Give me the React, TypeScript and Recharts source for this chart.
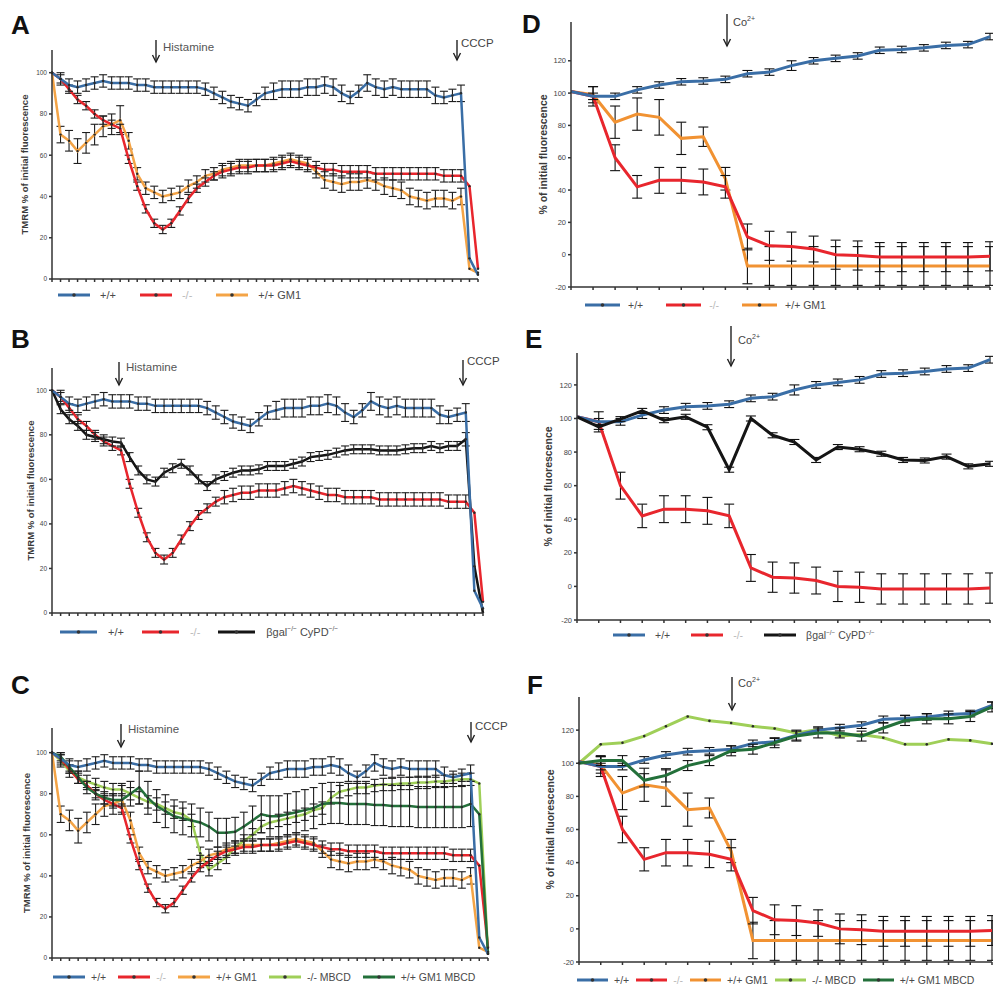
import React from 'react';
import { LineChart, Line, XAxis, YAxis, ErrorBar } from 'recharts';

const FONT = '"Liberation Sans", Arial, sans-serif';

// panels A-C: TMRM, % of initial fluorescence, one value per frame
const wtHist = [100, 97, 94, 93, 94, 95, 96, 95, 95, 95, 94, 94, 93, 93, 93, 93, 93, 93, 92, 90, 88, 86, 85, 84, 87, 90, 91, 92, 92, 92, 93, 93, 94, 93, 90, 88, 91, 95, 93, 92, 93, 92, 92, 92, 92, 89, 88, 89, 90, 10, 2];
const wtHistErr = [0, 3, 3, 3, 3, 3, 3, 3, 3, 3, 3, 3, 3, 3, 3, 3, 3, 3, 3, 3, 3, 3, 3, 3, 3, 3, 4, 4, 4, 4, 4, 4, 4, 4, 4, 3, 3, 4, 4, 4, 4, 4, 4, 4, 4, 4, 3, 3, 4, 0, 0];
const koHist = [100, 97, 92, 87, 84, 80, 77, 75, 73, 58, 45, 34, 27, 24, 27, 33, 39, 44, 47, 50, 52, 53, 54, 54, 55, 55, 55, 56, 57, 56, 55, 54, 53, 53, 52, 52, 52, 52, 51, 51, 51, 51, 51, 51, 51, 51, 50, 50, 50, 45, 5];
const koHistErr = [0, 2, 2, 2, 2, 2, 2, 2, 2, 2, 2, 2, 2, 2, 2, 2, 2, 2, 2, 2, 3, 3, 3, 3, 3, 3, 3, 3, 3, 3, 3, 3, 3, 3, 3, 3, 3, 3, 3, 3, 3, 3, 3, 3, 3, 3, 3, 3, 3, 0, 0];
const gm1Hist = [100, 70, 67, 62, 66, 70, 74, 75, 77, 67, 51, 44, 42, 40, 41, 42, 45, 47, 50, 51, 53, 54, 55, 55, 55, 55, 56, 57, 58, 57, 56, 52, 48, 47, 46, 47, 47, 48, 47, 45, 44, 43, 40, 39, 38, 39, 39, 38, 40, 5, 3];
const gm1HistErr = [0, 4, 5, 6, 5, 5, 5, 5, 7, 4, 3, 3, 3, 3, 3, 3, 3, 3, 3, 3, 3, 3, 3, 3, 3, 3, 3, 3, 3, 3, 3, 3, 4, 4, 4, 4, 4, 4, 4, 4, 4, 4, 4, 4, 4, 4, 4, 4, 4, 0, 0];
const cypdHist = [100, 91.5, 87, 84, 80, 79, 78, 77, 76.5, 70, 64, 60, 59, 63, 65, 67, 64, 60, 57, 60, 61.5, 63, 64, 64, 64.5, 66, 66, 66, 67, 68, 70, 70.5, 71, 72, 73, 73.5, 73.5, 73.5, 73, 73, 73, 73.5, 74, 74, 75, 74, 75, 75, 78, 21, 0];
const cypdHistErr = [0, 2, 2, 2, 2, 2, 2, 2, 2, 2, 2, 2, 2, 2, 2, 2, 2, 2, 2, 2, 2, 2, 2, 2, 2, 2, 2, 2, 2, 2, 2, 2, 2, 2, 2, 2, 2, 2, 2, 2, 2, 2, 2, 2, 2, 2, 2, 2, 3, 0, 0];
const mbcdHist = [100, 96, 91, 88, 86, 84.5, 83, 82, 82, 80, 78, 76, 75, 73, 71, 70, 67, 51, 43, 46, 49, 54, 57, 60, 64, 66, 67, 68, 69, 70, 72, 73, 78, 81, 82, 83, 83, 84, 84.5, 84.5, 85, 85, 85.5, 85.5, 86, 86, 86.5, 87, 87, 85, 2];
const mbcdHistErr = [0, 3, 3, 3, 3, 3, 3, 3, 3, 3, 3, 3, 3, 3, 3, 3, 3, 3, 3, 3, 3, 3, 3, 3, 3, 3, 3, 3, 3, 3, 3, 3, 3, 3, 3, 3, 3, 3, 3, 3, 3, 3, 3, 3, 3, 3, 3, 3, 3, 0, 0];
const gm1MbcdHist = [100, 98, 93, 88, 83, 80, 78, 77, 77, 80, 83, 78, 74, 71.5, 69, 68, 67, 66, 64, 61, 61, 61.5, 64, 67, 70, 69, 69, 70, 71, 72, 73, 75, 75.5, 75.5, 75, 75, 75, 74.5, 74.5, 74, 74, 74, 73.5, 73.5, 73.5, 73.5, 73.5, 73.5, 75, 70, 2];
const gm1MbcdHistErr = [0, 2, 3, 3, 3, 3, 3, 3, 3, 6, 8, 8, 8, 8, 8, 8, 8, 7, 7, 7, 7, 7, 7, 7, 9, 10, 10, 10, 10, 10, 10, 10, 10, 10, 10, 10, 10, 10, 10, 10, 10, 10, 10, 10, 10, 10, 10, 10, 11, 0, 0];

// panels D-F: Co2+ quench, % of initial fluorescence
const wtCo = [101, 98, 98, 102, 105, 107, 107.5, 108.5, 112, 113, 117, 120, 121.5, 123, 126.5, 127, 128, 129.5, 130, 135];
const wtCoErr = [0, 2, 2, 2, 2, 2, 2, 2, 2, 2, 3, 2, 2, 2, 2, 2, 2, 2, 2, 2];
const koCo = [101, 98, 60, 42, 46, 46, 45, 42, 11, 5.5, 5, 3.5, 0, -0.5, -1.5, -1.5, -1.5, -1.5, -1.5, -1];
const koCoErr = [0, 6, 8, 7, 8, 8, 8, 7, 8, 9, 9, 8, 9, 9, 9, 9, 9, 9, 9, 9];
const gm1Co = [101, 99, 82, 87, 85, 72, 73, 47, -7, -7, -7, -7, -7, -7, -7, -7, -7, -7, -7, -7];
const gm1CoErr = [0, 5, 10, 10, 11, 10, 6, 7, 11, 12, 12, 12, 12, 12, 12, 12, 12, 12, 12, 12];
const cypdCo = [101, 95, 99.6, 104.5, 99, 101, 94.8, 69.5, 100, 90, 86, 75.3, 83, 81.7, 79, 75.3, 75, 77.3, 71.5, 73];
const cypdCoErr = [0, 1.5, 1.5, 1.5, 1.5, 1.5, 1.5, 1.5, 1.5, 1.5, 1.5, 1.5, 1.5, 1.5, 1.5, 1.5, 1.5, 1.5, 1.5, 1.5];
const mbcdCo = [100, 111.4, 112.4, 116.4, 122.3, 128.2, 125.6, 124.3, 122.3, 121, 118.3, 120.3, 116.4, 117.4, 115.4, 111.4, 111.4, 114.4, 113.8, 111.8];
const gm1MbcdCo = [100, 101.6, 101.6, 89.7, 92.7, 98.6, 101.6, 107.5, 108.5, 112.4, 116.4, 118.3, 118.3, 116.4, 121.3, 125.8, 126.8, 126.8, 128.2, 134];
const gm1MbcdCoErr = [0, 3, 3, 4, 4, 3, 3, 3, 3, 3, 3, 3, 3, 3, 3, 3, 3, 3, 3, 3];

const histTicks = [0, 20, 40, 60, 80, 100];
const coTicks = [-20, 0, 20, 40, 60, 80, 100, 120];

const BLUE = '#3a6ea6';
const RED = '#e8262d';
const ORANGE = '#f4a446';
const ORANGE_D = '#f19232';
const BLACK = '#151515';
const LGREEN = '#9fcf58';
const DGREEN = '#23703a';

type S = { key: string; color: string; values: number[]; errors?: number[]; width?: number; dot?: number };

type PanelProps = {
  labelX: number; axisX: number; plotTop: number; plotBottom: number; plotRight: number;
  domain: [number, number]; yTicks: number[]; series: S[];
  yLabel: string; yLabelSize: number; tickSize: number; errW: number; errColor: string;
};

function Panel(p: PanelProps) {
  const boxLeft = 2 * p.labelX - p.axisX;
  const boxTop = p.plotTop - 10;
  const rightPad = Math.min(6, 993 - p.plotRight);
  const xAxisH = 6;
  const n = p.series[0].values.length;
  const data = p.series[0].values.map((_, i) => {
    const r: Record<string, number> = { t: i };
    p.series.forEach((s) => {
      r[s.key] = s.values[i];
      if (s.errors) r[s.key + 'Err'] = s.errors[i];
    });
    return r;
  });
  const ticks = data.map((d) => d.t);
  return (
    <div style={{ position: 'absolute', left: boxLeft, top: boxTop }}>
      <LineChart
        width={p.plotRight + rightPad - boxLeft}
        height={p.plotBottom - p.plotTop + 20}
        data={data}
        margin={{ top: 10, right: rightPad, bottom: 10 - xAxisH, left: 0 }}
      >
        <XAxis
          type="number"
          dataKey="t"
          domain={[0, n - 1]}
          ticks={ticks}
          interval={0}
          tickFormatter={() => ''}
          height={xAxisH}
          tickSize={3}
          stroke="#333"
          strokeWidth={1.5}
        />
        <YAxis
          width={p.axisX - boxLeft}
          domain={p.domain}
          ticks={p.yTicks}
          allowDataOverflow
          interval={0}
          tickSize={3}
          stroke="#333"
          strokeWidth={1.5}
          tick={{ fontSize: p.tickSize, fill: '#444', fontFamily: FONT }}
          label={{
            value: p.yLabel,
            angle: -90,
            position: 'center',
            style: { fontSize: p.yLabelSize, fontWeight: 700, fill: '#3a3a3a', fontFamily: FONT, textAnchor: 'middle' },
          }}
        />
        {p.series.map((s) => (
          <Line
            key={s.key}
            type="linear"
            dataKey={s.key}
            stroke={s.color}
            strokeWidth={s.width ?? 2.5}
            dot={s.dot ? { r: s.dot, fill: '#2a2a2a', stroke: 'none' } : false}
            activeDot={false}
            isAnimationActive={false}
          >
            {s.errors && (
              <ErrorBar
                dataKey={s.key + 'Err'}
                width={p.errW}
                strokeWidth={1.1}
                stroke={p.errColor}
                direction="y"
                isAnimationActive={false}
              />
            )}
          </Line>
        ))}
      </LineChart>
    </div>
  );
}

type LegendItem = { color: string; label: React.ReactNode; faint?: boolean };

function Legend({ x, y, items, swatch, gap, textGap, font }: { x: number; y: number; items: LegendItem[]; swatch: number; gap: number; textGap: number; font: number }) {
  return (
    <div style={{ position: 'absolute', left: x, top: y - 8, height: 16, display: 'flex', alignItems: 'center', fontFamily: FONT, fontSize: font, whiteSpace: 'nowrap' }}>
      {items.map((it, i) => (
        <div key={i} style={{ display: 'flex', alignItems: 'center', marginRight: gap }}>
          <svg width={swatch} height={8} style={{ display: 'block' }}>
            <line x1={0} y1={4} x2={swatch} y2={4} stroke={it.color} strokeWidth={3} />
            <circle cx={swatch / 2} cy={4} r={1.8} fill="#333" />
          </svg>
          <span style={{ marginLeft: textGap, color: it.faint ? '#b9b9b9' : '#4a4a4a' }}>{it.label}</span>
        </div>
      ))}
    </div>
  );
}

const cypdLabel = (
  <span>
    βgal<sup style={{ fontSize: '0.6em' }}>−/−</sup> CyPD<sup style={{ fontSize: '0.6em' }}>−/−</sup>
  </span>
);

function Arrow({ x, y1, y2 }: { x: number; y1: number; y2: number }) {
  return (
    <g stroke="#222" strokeWidth={1.4} fill="none">
      <line x1={x} y1={y1} x2={x} y2={y2} />
      <polyline points={`${x - 3.5},${y2 - 7} ${x},${y2} ${x + 3.5},${y2 - 7}`} />
    </g>
  );
}

function Co({ x, y }: { x: number; y: number }) {
  return (
    <text x={x} y={y} fontSize={11} fill="#444" fontFamily={FONT}>
      Co<tspan fontSize={7} dy={-5}>2+</tspan>
    </text>
  );
}

export default function App() {
  const histSeriesA: S[] = [
    { key: 'gm1', color: ORANGE, values: gm1Hist, errors: gm1HistErr, dot: 1.2 },
    { key: 'ko', color: RED, values: koHist, errors: koHistErr, dot: 1.2 },
    { key: 'wt', color: BLUE, values: wtHist, errors: wtHistErr, dot: 1.2 },
  ];
  const histSeriesB: S[] = [
    { key: 'ko', color: RED, values: koHist, errors: koHistErr, dot: 1.2 },
    { key: 'cypd', color: BLACK, values: cypdHist, errors: cypdHistErr, dot: 1.2 },
    { key: 'wt', color: BLUE, values: wtHist, errors: wtHistErr, dot: 1.2 },
  ];
  const histSeriesC: S[] = [
    { key: 'mbcd', color: LGREEN, values: mbcdHist, errors: mbcdHistErr, dot: 1.2 },
    { key: 'gm1', color: ORANGE, values: gm1Hist, errors: gm1HistErr, dot: 1.2 },
    { key: 'ko', color: RED, values: koHist, errors: koHistErr, dot: 1.2 },
    { key: 'gm1mbcd', color: DGREEN, values: gm1MbcdHist, errors: gm1MbcdHistErr, dot: 1.2 },
    { key: 'wt', color: BLUE, values: wtHist, errors: wtHistErr, dot: 1.2 },
  ];
  const coSeriesD: S[] = [
    { key: 'gm1', color: ORANGE_D, values: gm1Co, errors: gm1CoErr, width: 3 },
    { key: 'ko', color: RED, values: koCo, errors: koCoErr, width: 3 },
    { key: 'wt', color: BLUE, values: wtCo, errors: wtCoErr, width: 3 },
  ];
  const coSeriesE: S[] = [
    { key: 'ko', color: RED, values: koCo, errors: koCoErr, width: 3 },
    { key: 'wt', color: BLUE, values: wtCo, errors: wtCoErr, width: 3 },
    { key: 'cypd', color: BLACK, values: cypdCo, errors: cypdCoErr, width: 3 },
  ];
  const coSeriesF: S[] = [
    { key: 'mbcd', color: LGREEN, values: mbcdCo, width: 3, dot: 1.3 },
    { key: 'gm1', color: ORANGE_D, values: gm1Co, errors: gm1CoErr, width: 3 },
    { key: 'ko', color: RED, values: koCo, errors: koCoErr, width: 3 },
    { key: 'wt', color: BLUE, values: wtCo, errors: wtCoErr, width: 3 },
    { key: 'gm1mbcd', color: DGREEN, values: gm1MbcdCo, errors: gm1MbcdCoErr, width: 3 },
  ];

  const tmrm = 'TMRM % of initial fluorescence';
  const pct = '% of initial fluorescence';
  const letter = { fontSize: 26, fontWeight: 700, fill: '#111', fontFamily: FONT } as const;

  return (
    <div style={{ position: 'absolute', left: 0, top: 0, width: 993, height: 987, background: '#fff', overflow: 'hidden' }}>
      <Panel labelX={25} axisX={52} plotTop={50} plotBottom={279} plotRight={478} domain={[0, 111]} yTicks={histTicks}
        series={histSeriesA} yLabel={tmrm} yLabelSize={9.5} tickSize={6.5} errW={4} errColor="#1d1d1d" />
      <Panel labelX={31} axisX={52} plotTop={368} plotBottom={613} plotRight={483} domain={[0, 110]} yTicks={histTicks}
        series={histSeriesB} yLabel={tmrm} yLabelSize={9.5} tickSize={6.5} errW={4} errColor="#1d1d1d" />
      <Panel labelX={27} axisX={52} plotTop={728} plotBottom={958} plotRight={488} domain={[0, 112]} yTicks={histTicks}
        series={histSeriesC} yLabel={tmrm} yLabelSize={9.5} tickSize={6.5} errW={4} errColor="#1d1d1d" />
      <Panel labelX={543} axisX={571} plotTop={22} plotBottom={287} plotRight={990} domain={[-20, 144]} yTicks={coTicks}
        series={coSeriesD} yLabel={pct} yLabelSize={10.5} tickSize={7.5} errW={5} errColor="#111" />
      <Panel labelX={548} axisX={577} plotTop={353} plotBottom={620} plotRight={990} domain={[-20, 139]} yTicks={coTicks}
        series={coSeriesE} yLabel={pct} yLabelSize={10.5} tickSize={7.5} errW={5} errColor="#111" />
      <Panel labelX={550} axisX={579} plotTop={697} plotBottom={962} plotRight={992} domain={[-20, 140]} yTicks={coTicks}
        series={coSeriesF} yLabel={pct} yLabelSize={10.5} tickSize={7.5} errW={5} errColor="#111" />

      <Legend x={58} y={295} swatch={32} gap={24} textGap={10} font={11}
        items={[{ color: BLUE, label: '+/+' }, { color: RED, label: '-/-', faint: true }, { color: ORANGE, label: '+/+ GM1' }]} />
      <Legend x={60} y={632} swatch={37} gap={18} textGap={11} font={11}
        items={[{ color: BLUE, label: '+/+' }, { color: RED, label: '-/-', faint: true }, { color: BLACK, label: cypdLabel }]} />
      <Legend x={53} y={977} swatch={32} gap={12} textGap={6} font={10.5}
        items={[{ color: BLUE, label: '+/+' }, { color: RED, label: '-/-', faint: true }, { color: ORANGE, label: '+/+ GM1' }, { color: LGREEN, label: '-/- MBCD' }, { color: DGREEN, label: '+/+ GM1  MBCD' }]} />
      <Legend x={585} y={305} swatch={35} gap={23} textGap={8} font={10.5}
        items={[{ color: BLUE, label: '+/+' }, { color: RED, label: '-/-', faint: true }, { color: ORANGE_D, label: '+/+ GM1' }]} />
      <Legend x={613} y={635} swatch={32} gap={21} textGap={10} font={10.5}
        items={[{ color: BLUE, label: '+/+' }, { color: RED, label: '-/-', faint: true }, { color: BLACK, label: cypdLabel }]} />
      <Legend x={577} y={980} swatch={31} gap={7} textGap={6} font={10.5}
        items={[{ color: BLUE, label: '+/+' }, { color: RED, label: '-/-', faint: true }, { color: ORANGE_D, label: '+/+ GM1' }, { color: LGREEN, label: '-/- MBCD' }, { color: DGREEN, label: '+/+ GM1  MBCD' }]} />

      <svg width={993} height={987} style={{ position: 'absolute', left: 0, top: 0, pointerEvents: 'none' }}>
        <text x={11} y={34} {...letter}>A</text>
        <text x={11} y={348} {...letter}>B</text>
        <text x={11} y={694} {...letter}>C</text>
        <text x={522} y={33} {...letter}>D</text>
        <text x={525} y={348} {...letter}>E</text>
        <text x={527} y={694} {...letter}>F</text>

        <Arrow x={156} y1={40} y2={62} />
        <text x={163} y={51} fontSize={11.5} fill="#555" fontFamily={FONT}>Histamine</text>
        <Arrow x={457} y1={40} y2={60} />
        <text x={461} y={47} fontSize={11.5} fill="#444" fontFamily={FONT}>CCCP</text>

        <Arrow x={119} y1={362} y2={385} />
        <text x={126} y={371} fontSize={11.5} fill="#555" fontFamily={FONT}>Histamine</text>
        <Arrow x={463} y1={360} y2={385} />
        <text x={467} y={365} fontSize={11.5} fill="#444" fontFamily={FONT}>CCCP</text>

        <Arrow x={121} y1={724} y2={747} />
        <text x={128} y={733} fontSize={11.5} fill="#555" fontFamily={FONT}>Histamine</text>
        <Arrow x={471} y1={722} y2={742} />
        <text x={475} y={730} fontSize={11.5} fill="#444" fontFamily={FONT}>CCCP</text>

        <Arrow x={727} y1={14} y2={46} />
        <Co x={733} y={26} />
        <Arrow x={731} y1={326} y2={366} />
        <Co x={738} y={344} />
        <Arrow x={732} y1={677} y2={710} />
        <Co x={738} y={687} />
      </svg>
    </div>
  );
}
